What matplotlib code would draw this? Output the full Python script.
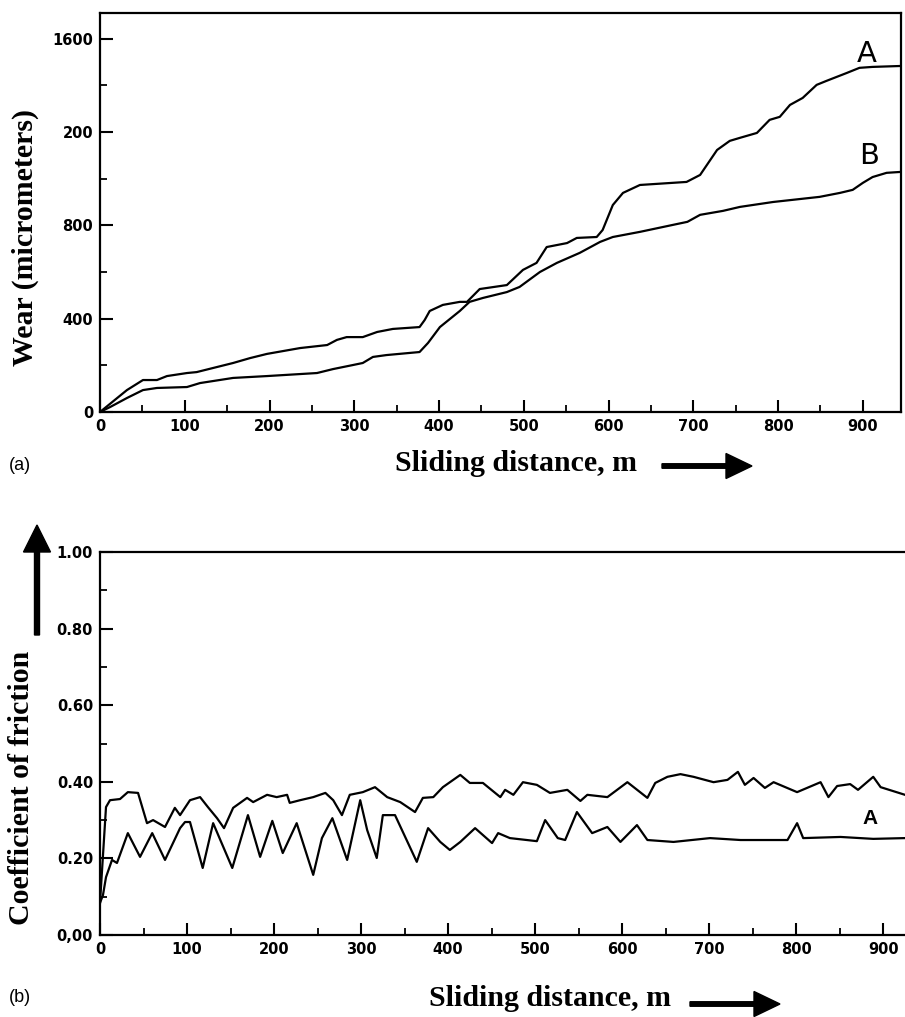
import matplotlib
matplotlib.use("Agg")
import matplotlib.pyplot as plt
from matplotlib.ticker import MultipleLocator, FixedLocator
from matplotlib.patches import FancyArrow

# ---------------- data ----------------
# (a) wear vs sliding distance
wear_a_x = [0, 31.8, 50.7, 67.2, 79, 102.6, 114, 157, 177, 197, 236, 268, 279.5, 291, 310, 327,
            345.5, 377, 383, 389, 404.5, 424.5, 433, 448, 480, 499, 515, 527, 551, 562.5, 586, 593,
            605, 617, 637, 692, 708, 728, 743, 755, 775, 790, 802, 814, 829, 845.5, 857, 881, 896,
            911.5, 945]
wear_a_y = [0, 94, 137, 137, 154, 167, 171, 210, 231, 249, 274, 287, 309, 321, 321, 343,
            356, 364, 394, 433, 459, 472, 472, 527, 544, 609, 639, 707, 724, 746, 750, 780,
            887, 939, 973, 986, 1016, 1123, 1162, 1175, 1196, 1252, 1265, 1316, 1346, 1402, 1419, 1453, 1475,
            1479, 1483]
wear_b_x = [0, 11.8, 31.8, 50.7, 67.2, 102.6, 118, 157, 197, 256, 275, 298, 310, 322, 338, 377,
            387, 401, 424.5, 436, 452, 480, 495, 519, 539, 566, 590, 605, 637, 676, 693, 708, 735,
            755, 794, 849, 873, 888, 900, 911.5, 928, 945]
wear_b_y = [0, 21, 60, 94, 103, 107, 124, 146, 154, 167, 184, 201, 210, 236, 244, 257,
            296, 364, 433, 472, 489, 514, 536, 600, 639, 682, 729, 750, 772, 802, 815, 845, 862,
            879, 900, 922, 939, 952, 982, 1007, 1025, 1029]

# (b) coefficient of friction vs sliding distance
cof_up_x = [0, 6.9, 11.5, 23, 32, 43.7, 54, 61, 74.7, 86, 92, 103.4, 115, 124, 134.5, 142.5, 153,
            169, 176, 192, 203, 215, 218, 230, 245, 259, 268, 278, 287, 302, 316, 330, 345, 362,
            371, 383, 394, 414, 425, 440, 460, 465.5, 475, 486, 502, 517, 537, 552, 560, 583, 606,
            629, 638, 652, 667, 682, 705, 721, 733, 741, 751, 764, 774, 801, 828, 837, 847, 862,
            871, 888.5, 897, 925]
cof_up_y = [0.084, 0.334, 0.352, 0.355, 0.373, 0.371, 0.292, 0.300, 0.282, 0.332, 0.313, 0.352,
            0.360, 0.334, 0.305, 0.279, 0.332, 0.358, 0.347, 0.366, 0.360, 0.366, 0.345, 0.352,
            0.360, 0.371, 0.352, 0.313, 0.366, 0.373, 0.386, 0.360, 0.347, 0.321, 0.358, 0.360,
            0.386, 0.418, 0.397, 0.397, 0.360, 0.379, 0.366, 0.399, 0.392, 0.371, 0.379, 0.350,
            0.366, 0.360, 0.399, 0.358, 0.397, 0.413, 0.420, 0.413, 0.399, 0.405, 0.426, 0.392,
            0.410, 0.384, 0.399, 0.373, 0.399, 0.360, 0.389, 0.394, 0.379, 0.413, 0.386, 0.366]
cof_lo_x = [0, 3.4, 6.9, 13.8, 19.5, 32, 46, 60, 74.7, 92, 97.7, 103.4, 118, 130, 152, 170, 184,
            198, 210, 226, 245, 255, 267, 284, 299, 307, 318, 325, 339, 364, 377, 391, 402, 414,
            431, 450.5, 457.5, 471, 502, 511.5, 526, 534.5, 548, 565.5, 583, 598, 617, 629, 659,
            701, 736, 790, 801, 808, 851, 888.5, 925]
cof_lo_y = [0.084, 0.104, 0.151, 0.196, 0.188, 0.266, 0.204, 0.266, 0.196, 0.279, 0.295, 0.295,
            0.175, 0.292, 0.175, 0.313, 0.204, 0.298, 0.214, 0.292, 0.157, 0.253, 0.305, 0.196,
            0.352, 0.274, 0.201, 0.313, 0.313, 0.191, 0.279, 0.243, 0.222, 0.243, 0.279, 0.240,
            0.266, 0.253, 0.245, 0.300, 0.253, 0.248, 0.321, 0.266, 0.282, 0.243, 0.287, 0.248,
            0.243, 0.253, 0.248, 0.248, 0.292, 0.253, 0.256, 0.251, 0.253]

wear_ticks = [0, 400, 800, 1200, 1600]
wear_ticklabels = ["0", "400", "800", "200", "1600"]
dist_ticks = [0, 100, 200, 300, 400, 500, 600, 700, 800, 900]
dist_ticklabels = [str(t) for t in dist_ticks]
cof_ticks = [0.0, 0.2, 0.4, 0.6, 0.8, 1.0]
cof_ticklabels = ["0,00", "0.20", "0.40", "0.60", "0.80", "1.00"]

# ---------------- figure ----------------
W, H = 905, 1017
fig = plt.figure(figsize=(W / 100, H / 100), dpi=100)

def ax_rect(l, t, r, b):
    return [l / W, 1 - b / H, (r - l) / W, (b - t) / H]

tick_font = dict(family="DejaVu Sans", weight="bold", size=10.5)
serif_bold = dict(family="Liberation Serif", weight="bold")
LW = 1.6
LABEL_FS = 21.5

def style_axes(ax):
    for s in ax.spines.values():
        s.set_linewidth(1.6)
    ax.tick_params(which="major", direction="in", length=9, width=1.5, pad=5,
                   top=False, right=False)
    ax.tick_params(which="minor", direction="in", length=5, width=1.3,
                   top=False, right=False)
    for lab in ax.get_xticklabels() + ax.get_yticklabels():
        lab.set_fontfamily(tick_font["family"])
        lab.set_fontweight(tick_font["weight"])
        lab.set_fontsize(tick_font["size"])

# ---- (a) ----
ax1 = fig.add_axes(ax_rect(100, 13, 901, 412))
ax1.plot(wear_a_x, wear_a_y, color="black", lw=LW)
ax1.plot(wear_b_x, wear_b_y, color="black", lw=LW)
ax1.set_xlim(0, 945)
ax1.set_ylim(0, 1710)
ax1.set_xticks(dist_ticks)
ax1.set_xticklabels(dist_ticklabels)
ax1.set_yticks(wear_ticks)
ax1.set_yticklabels(wear_ticklabels)
ax1.xaxis.set_minor_locator(MultipleLocator(50))
ax1.yaxis.set_minor_locator(MultipleLocator(200))
style_axes(ax1)
ax1.text(904, 1535, "A", fontsize=21, family="DejaVu Sans", fontweight="normal",
         ha="center", va="center")
ax1.text(907, 1095, "B", fontsize=21, family="DejaVu Sans", fontweight="normal",
         ha="center", va="center")

fig.text(25 / W, 1 - 238 / H, "Wear (micrometers)", rotation=90, ha="center", va="center",
         fontsize=LABEL_FS, **serif_bold)
fig.text(516 / W, 1 - 464 / H, "Sliding distance, m", ha="center", va="center",
         fontsize=LABEL_FS, **serif_bold)
fig.text(20 / W, 1 - 465 / H, "(a)", ha="center", va="center", fontsize=13,
         family="Liberation Sans")

# ---- (b) ----
ax2 = fig.add_axes(ax_rect(100, 552, 905, 935))
ax2.plot(cof_up_x, cof_up_y, color="black", lw=LW)
ax2.plot(cof_lo_x, cof_lo_y, color="black", lw=LW)
ax2.set_xlim(0, 925)
ax2.set_ylim(0, 1.0)
ax2.set_xticks(dist_ticks)
ax2.set_xticklabels(dist_ticklabels)
ax2.set_yticks(cof_ticks)
ax2.set_yticklabels(cof_ticklabels)
ax2.xaxis.set_minor_locator(MultipleLocator(50))
ax2.yaxis.set_minor_locator(FixedLocator([0.1, 0.3, 0.5, 0.7, 0.9]))
ax2.spines["right"].set_visible(False)
style_axes(ax2)
ax2.text(885, 0.305, "A", fontsize=15, family="Liberation Sans",
         weight="bold", ha="center", va="center")

fig.text(22 / W, 1 - 788 / H, "Coefficient of friction", rotation=90, ha="center",
         va="center", fontsize=LABEL_FS, **serif_bold)
fig.text(550 / W, 1 - 998 / H, "Sliding distance, m", ha="center", va="center",
         fontsize=LABEL_FS, **serif_bold)
fig.text(20 / W, 1 - 997 / H, "(b)", ha="center", va="center", fontsize=13,
         family="Liberation Sans")

# arrows (figure pixel coords)
def px_arrow(x0, y0, x1, y1, width, head_w, head_l):
    horiz = y0 == y1
    fig.patches.append(FancyArrow(x0 / W, 1 - y0 / H, (x1 - x0) / W, -(y1 - y0) / H,
                                  width=width / H if horiz else width / W,
                                  head_width=head_w / H if horiz else head_w / W,
                                  head_length=head_l / W if horiz else head_l / H,
                                  length_includes_head=True, color="black",
                                  transform=fig.transFigure, figure=fig))

px_arrow(662, 466, 752, 466, 4.5, 25, 26)
px_arrow(690, 1004, 780, 1004, 4.5, 25, 26)
px_arrow(37, 635, 37, 525, 5, 27, 27)

fig.savefig("out.png", dpi=100)
